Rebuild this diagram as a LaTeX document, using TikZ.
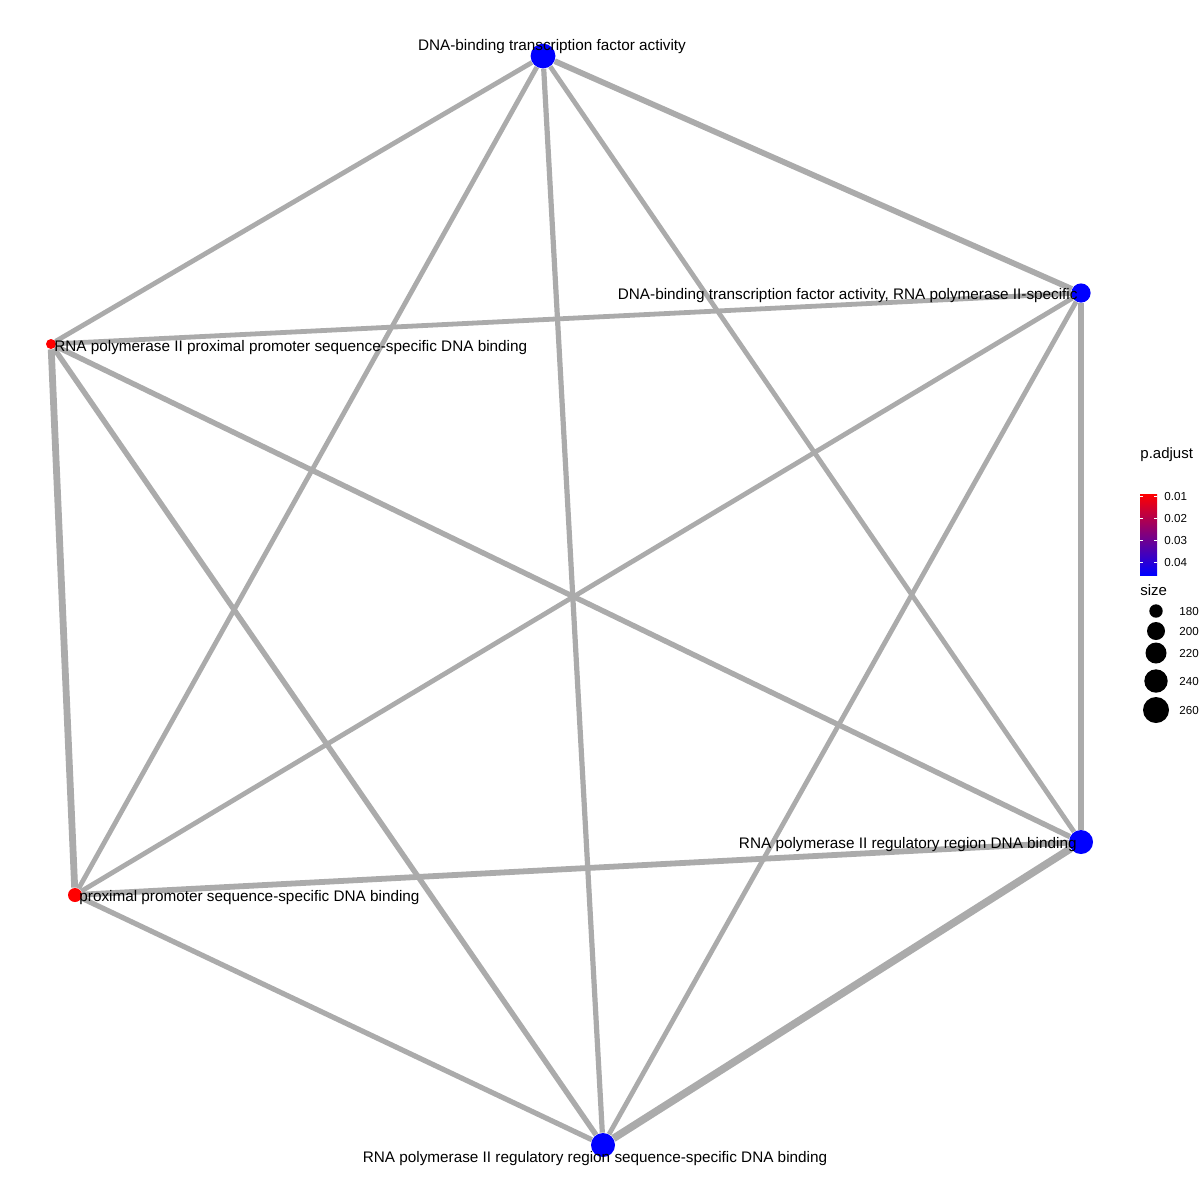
\documentclass[tikz,border=0pt]{standalone}
\usepackage{fontspec}
\setmainfont{Liberation Sans}
\usetikzlibrary{backgrounds}

\definecolor{edgegray}{RGB}{171,171,171}
\definecolor{sigred}{RGB}{255,0,0}
\definecolor{sigblue}{RGB}{0,0,255}

\tikzset{
    term/.style={circle, inner sep=0pt, draw=none},
    termlabel/.style={inner sep=0pt, font=\fontsize{7.65}{9}\selectfont},
    legtext/.style={inner sep=0pt, font=\fontsize{5.8}{7}\selectfont, anchor=west},
    link/.style={draw=edgegray, line width=2.4pt}
}

\begin{document}
\begin{tikzpicture}[x=0.5pt, y=-0.5pt]
\useasboundingbox (0,0) rectangle (1200,1200);

\begin{scope}
    \node [term, fill=sigblue, minimum size=12.4pt] (tfa) at (543,56) {};
    \node [term, fill=sigblue, minimum size=9.6pt] (tfpol) at (1081,293) {};
    \node [term, fill=sigred, minimum size=5pt] (polprox) at (51,344) {};
    \node [term, fill=sigred, minimum size=7pt] (prox) at (75,895) {};
    \node [term, fill=sigblue, minimum size=12pt] (polreg) at (1081,842) {};
    \node [term, fill=sigblue, minimum size=12pt] (polregseq) at (603,1145) {};

    \begin{pgfonlayer}{background}
    \path [link, line width=2.9pt] (tfa) edge (tfpol);
    \path [link] (tfa) edge (polprox);
    \path [link] (tfa) edge (prox);
    \path [link] (tfa) edge (polreg);
    \path [link, line width=2.6pt] (tfa) edge (polregseq);
    \path [link] (tfpol) edge (polprox);
    \path [link] (tfpol) edge (prox);
    \path [link, line width=2.6pt] (tfpol) edge (polreg);
    \path [link] (tfpol) edge (polregseq);
    \path [link, line width=3.4pt] (polprox) edge (prox);
    \path [link, line width=2.7pt] (polprox) edge (polreg);
    \path [link, line width=2.7pt] (polprox) edge (polregseq);
    \path [link, line width=2.9pt] (prox) edge (polreg);
    \path [link, line width=2.6pt] (prox) edge (polregseq);
    \path [link, line width=3.8pt] (polreg) edge (polregseq);
    \end{pgfonlayer}

    \node [termlabel] (tfa-l) at (552,47) {DNA-binding transcription factor activity};
    \node [termlabel, anchor=east] (tfpol-l) at (1078,296) {DNA-binding transcription factor activity, RNA polymerase II-specific};
    \node [termlabel, anchor=west] (polprox-l) at (54,348) {RNA polymerase II proximal promoter sequence-specific DNA binding};
    \node [termlabel, anchor=west] (prox-l) at (79,898) {proximal promoter sequence-specific DNA binding};
    \node [termlabel, anchor=east] (polreg-l) at (1077,845) {RNA polymerase II regulatory region DNA binding};
    \node [termlabel] (polregseq-l) at (595,1159) {RNA polymerase II regulatory region sequence-specific DNA binding};
\end{scope}

% legend
\begin{scope}
    \node [inner sep=0pt, font=\fontsize{7.5}{9}\selectfont, anchor=west] (padj) at (1140,455) {p.adjust};
    \shade [top color=sigred, bottom color=sigblue] (1140,494) rectangle (1157,575);
    \foreach \ty/\tv in {496/0.01, 518/0.02, 540/0.03, 562/0.04} {
        \draw [white, line width=0.4pt] (1140,\ty) -- (1143,\ty);
        \draw [white, line width=0.4pt] (1154,\ty) -- (1157,\ty);
        \node [legtext] at (1164,\ty) {\tv};
    }
    \node [inner sep=0pt, font=\fontsize{7.5}{9}\selectfont, anchor=west] (sz) at (1140,590) {size};
    \foreach \sy/\sr/\sv in {611/6.7/180, 631/9/200, 653/10.5/220, 681/11.7/240, 710/13/260} {
        \fill [black] (1156,\sy) circle [radius=\sr];
        \node [legtext] at (1179,\sy) {\sv};
    }
\end{scope}

\end{tikzpicture}
\end{document}
